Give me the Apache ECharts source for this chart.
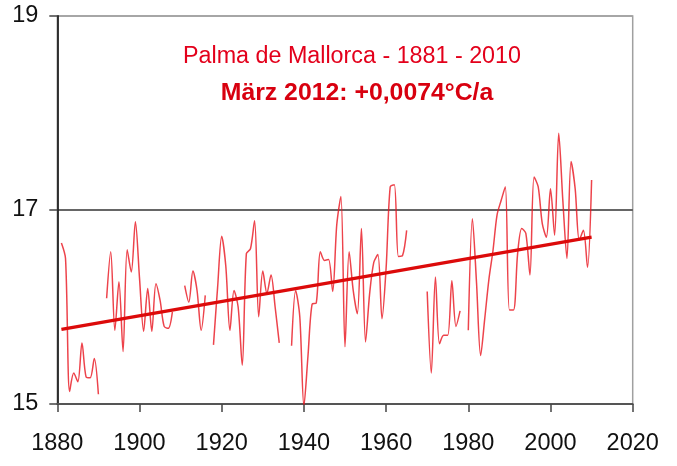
<!DOCTYPE html>
<html>
<head>
<meta charset="utf-8">
<style>html,body{margin:0;padding:0;background:#fff;}#c{width:677px;height:466px;}</style>
<script src="https://cdn.jsdelivr.net/npm/echarts@6/dist/echarts.min.js"></script>
</head>
<body>
<div id="c"></div>
<script>
var titleLine1 = 'Palma de Mallorca - 1881 - 2010';
var titleLine2 = 'März 2012: +0,0074°C/a';
var firstYear = 1881;
var marchTemps = [
  16.66, 16.5, 15.13, 15.32, 15.23, 15.63, 15.28, 15.27, 15.47, 15.1,
  null, 16.09, 16.57, 15.76, 16.26, 15.54, 16.59, 16.36, 16.88, 16.3,
  15.75, 16.19, 15.75, 16.24, 16.07, 15.8, 15.78, 15.95, null, null,
  16.22, 16.05, 16.37, 16.17, 15.76, 16.12, null, 15.61, 16.2, 16.73,
  16.42, 15.76, 16.17, 16.0, 15.4, 16.55, 16.6, 16.89, 15.9, 16.37,
  16.14, 16.33, 16.0, 15.63, null, null, 15.6, 16.17, 15.9, 14.98,
  15.5, 16.03, 16.04, 16.57, 16.48, 16.49, 16.16, 16.85, 17.14, 15.59,
  16.57, 16.17, 15.93, 16.81, 15.64, 16.14, 16.46, 16.54, 15.88, 16.4,
  17.24, 17.26, 16.52, 16.53, 16.79, null, null, null, null, 16.16,
  15.32, 16.31, 15.62, 15.71, 15.71, 16.27, 15.8, 15.96, null, 15.76,
  16.91, 16.25, 15.5, 15.88, 16.28, 16.58, 16.95, 17.1, 17.24, 15.97,
  15.97, 16.55, 16.81, 16.76, 16.33, 17.34, 17.24, 16.86, 16.72, 17.22,
  16.74, 17.79, 17.1, 16.5, 17.5, 17.22, 16.69, 16.79, 16.41, 17.31
];
var trendYears = [1881, 2010];
var trendValues = [15.77, 16.72];

var years = [];
for (var i = 0; i < marchTemps.length; i++) years.push(firstYear + i);
var seriesData = years.map(function (y, i) { return [y, marchTemps[i]]; });
var trendData = trendYears.map(function (y, i) { return [y, trendValues[i]]; });

var chart = echarts.init(document.getElementById('c'), null, {renderer: 'canvas'});
var font = '"Liberation Sans", Arial, sans-serif';
chart.setOption({
  animation: false,
  backgroundColor: '#fff',
  title: [
    {text: titleLine1, left: 347, top: 40, textAlign: 'center',
     textStyle: {fontFamily: font, fontSize: 23.3, fontWeight: 'normal', color: '#e3001b'}},
    {text: titleLine2, left: 352, top: 76, textAlign: 'center',
     textStyle: {fontFamily: font, fontSize: 24.8, fontWeight: 'bold', color: '#d8000f'}}
  ],
  grid: {left: 57.3, right: 44.3, top: 16, bottom: 62, show: true, borderColor: '#a0a0a0', borderWidth: 1.5, backgroundColor: 'transparent'},
  xAxis: {
    type: 'value', min: 1880, max: 2020, interval: 20,
    axisLine: {show: true, onZero: false, lineStyle: {color: '#555', width: 1.8}},
    axisTick: {show: true, length: 8, lineStyle: {color: '#444', width: 1.5}},
    axisLabel: {fontFamily: font, fontSize: 23.5, color: '#111', margin: 28,
                formatter: function (v) { return String(v); }},
    splitLine: {show: false}
  },
  yAxis: {
    type: 'value', min: 15, max: 19, interval: 2,
    axisLine: {show: true, onZero: false, lineStyle: {color: '#222', width: 1.8}},
    axisTick: {show: true, length: 8, lineStyle: {color: '#444', width: 1.5}},
    axisLabel: {fontFamily: font, fontSize: 23.5, color: '#111', margin: 19},
    splitLine: {show: true, lineStyle: {color: ['#555', '#333', '#a0a0a0'], width: 1.5}}
  },
  series: [
    {type: 'line', data: seriesData, showSymbol: false, smooth: 0.3, connectNulls: false,
     lineStyle: {color: 'rgba(232,20,30,0.8)', width: 1.5}, z: 2},
    {type: 'line', data: trendData, showSymbol: false,
     lineStyle: {color: '#dc0a0a', width: 3.2}, z: 3}
  ]
});
</script>
</body>
</html>
